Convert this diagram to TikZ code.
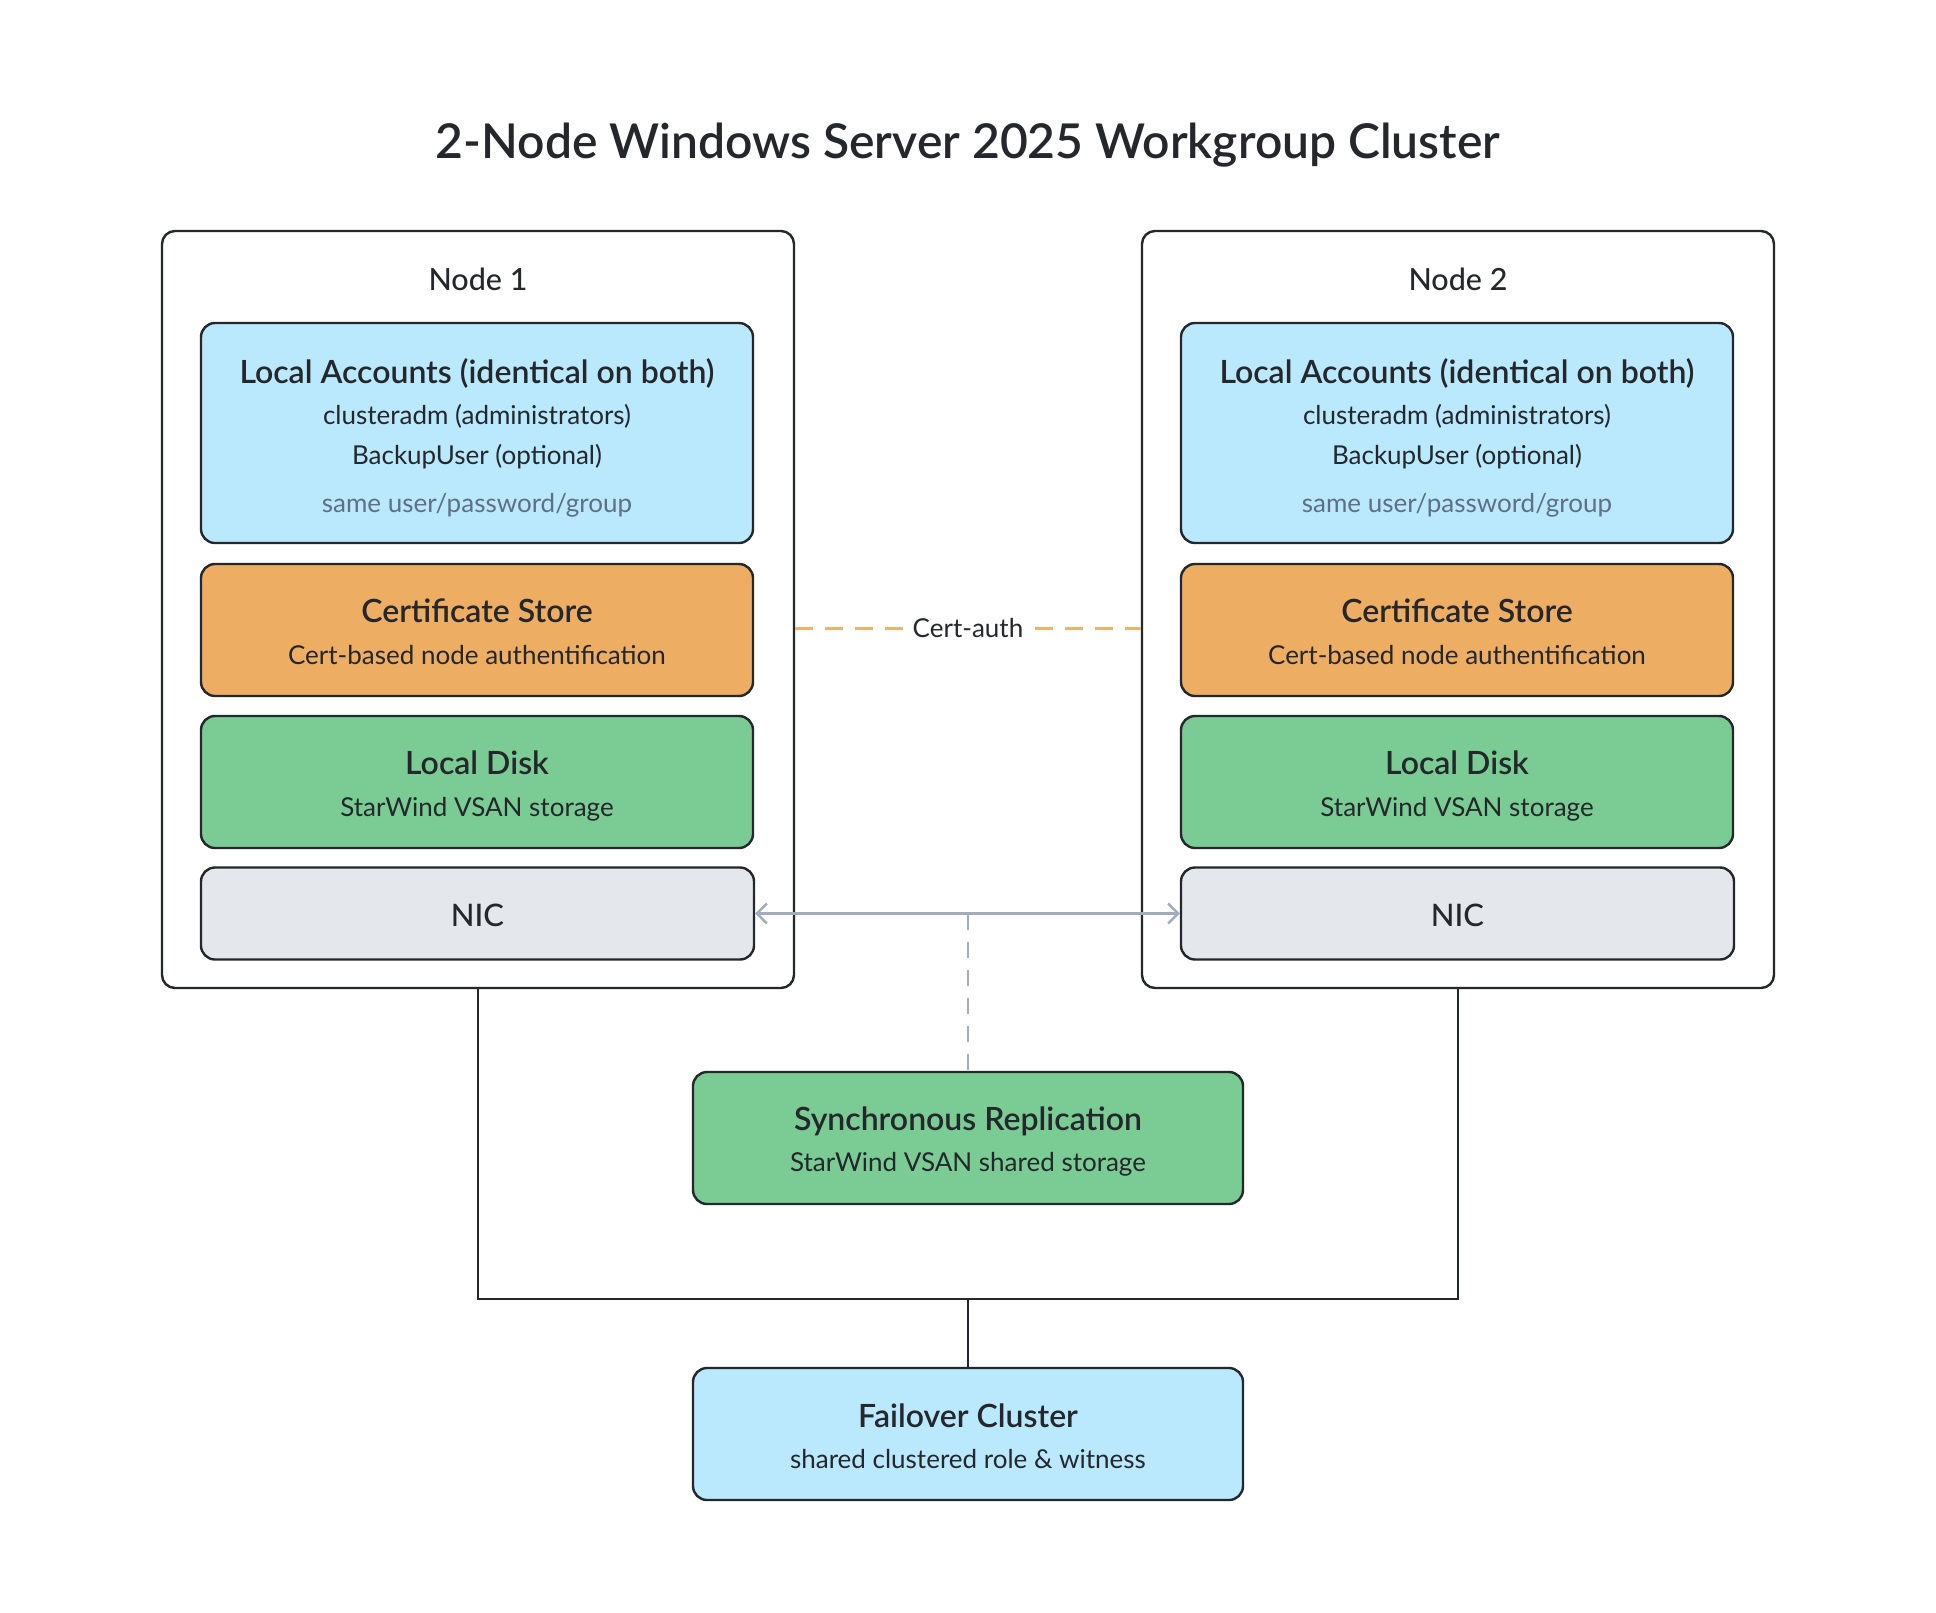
\documentclass[tikz,border=0pt]{standalone}
\usepackage{fontspec}
\setmainfont{Lato}
\IfFontExistsTF{Lato Semibold}{\newfontfamily\semib{Lato Semibold}}{\newfontfamily\semib{Lato}[UprightFont=*-Bold]}
\IfFontExistsTF{Lato Medium}{\newfontfamily\medw{Lato Medium}}{\newfontfamily\medw{Lato}}
\usetikzlibrary{arrows.meta}
\definecolor{ink}{HTML}{24272B}
\definecolor{skyb}{HTML}{BAE8FD}
\definecolor{orng}{HTML}{EDAD62}
\definecolor{grn}{HTML}{7BCB94}
\definecolor{gry}{HTML}{E4E8EC}
\definecolor{slt}{HTML}{A1ACBF}
\definecolor{muted}{HTML}{5F6F84}
\definecolor{dsh}{HTML}{F0B266}
\tikzset{
  outerbox/.style={draw=ink, line width=2.4pt, rounded corners=13pt, fill=white, inner sep=0pt},
  innerbox/.style={draw=ink, line width=2.4pt, rounded corners=14pt, inner sep=0pt},
  ttl/.style={font=\fontsize{32}{36}\semib, text=ink, inner sep=0pt},
  sub/.style={font=\fontsize{26}{30}\selectfont, text=ink, inner sep=0pt},
  mut/.style={font=\fontsize{26}{30}\selectfont, text=muted, inner sep=0pt},
  conn/.style={draw=ink, line width=2.4pt},
}
\begin{document}
\begin{tikzpicture}[x=1pt,y=-1pt]
\useasboundingbox (0,0) rectangle (1936,1612);
\fill[white] (0,0) rectangle (1936,1612);
\node[font=\fontsize{48}{54}\semib, text=ink] (title) at (968,145) {2-Node Windows Server 2025 Workgroup Cluster};

% Node 1
\node[outerbox, minimum width=632pt, minimum height=757pt] (n1) at (478,609.5) {};
\node[font=\fontsize{30.5}{34}\medw, text=ink] (n1t) at (478,279) {Node 1};
\node[innerbox, fill=skyb, minimum width=552pt, minimum height=220pt] (la1) at (477,433) {};
\node[ttl] (la1a) at (477,373) {Local Accounts (identical on both)};
\node[sub] (la1b) at (477,416) {clusteradm (administrators)};
\node[sub] (la1c) at (477,457) {BackupUser (optional)};
\node[mut] (la1d) at (477,505) {same user/password/group};
\node[innerbox, fill=orng, minimum width=552pt, minimum height=132pt] (cs1) at (477,630) {};
\node[ttl] (cs1a) at (477,611) {Certificate Store};
\node[sub] (cs1b) at (477,655) {Cert-based node authentification};
\node[innerbox, fill=grn, minimum width=552pt, minimum height=132pt] (ld1) at (477,782) {};
\node[ttl] (ld1a) at (477,763) {Local Disk};
\node[sub] (ld1b) at (477,809) {StarWind VSAN storage};
\node[innerbox, fill=gry, minimum width=553pt, minimum height=92pt] (nic1) at (477.5,913.5) {};
\node[font=\fontsize{31}{36}\medw, text=ink, inner sep=0pt] (nic1a) at (477.5,915) {NIC};

% Node 2
\node[outerbox, minimum width=632pt, minimum height=757pt] (n2) at (1458,609.5) {};
\node[font=\fontsize{30.5}{34}\medw, text=ink] (n2t) at (1458,279) {Node 2};
\node[innerbox, fill=skyb, minimum width=552pt, minimum height=220pt] (la2) at (1457,433) {};
\node[ttl] (la2a) at (1457,373) {Local Accounts (identical on both)};
\node[sub] (la2b) at (1457,416) {clusteradm (administrators)};
\node[sub] (la2c) at (1457,457) {BackupUser (optional)};
\node[mut] (la2d) at (1457,505) {same user/password/group};
\node[innerbox, fill=orng, minimum width=552pt, minimum height=132pt] (cs2) at (1457,630) {};
\node[ttl] (cs2a) at (1457,611) {Certificate Store};
\node[sub] (cs2b) at (1457,655) {Cert-based node authentification};
\node[innerbox, fill=grn, minimum width=552pt, minimum height=132pt] (ld2) at (1457,782) {};
\node[ttl] (ld2a) at (1457,763) {Local Disk};
\node[sub] (ld2b) at (1457,809) {StarWind VSAN storage};
\node[innerbox, fill=gry, minimum width=553pt, minimum height=92pt] (nic2) at (1457.5,913.5) {};
\node[font=\fontsize{31}{36}\medw, text=ink, inner sep=0pt] (nic2a) at (1457.5,915) {NIC};

% Sync replication & failover
\node[innerbox, fill=grn, minimum width=550pt, minimum height=132pt] (sr) at (968,1138) {};
\node[ttl] (sra) at (968,1121) {Synchronous Replication};
\node[sub] (srb) at (968,1164) {StarWind VSAN shared storage};
\node[innerbox, fill=skyb, minimum width=550pt, minimum height=132pt] (fc) at (968,1434) {};
\node[ttl] (fca) at (968,1416) {Failover Cluster};
\node[sub] (fcb) at (968,1459) {shared clustered role \& witness};

% connectors
\draw[dsh, line width=3pt, dash pattern=on 18pt off 12pt] (n1.east |- 0,628) -- node[fill=white, inner sep=8pt, font=\fontsize{26}{30}\selectfont, text=ink] (ca) {Cert-auth} (n2.west |- 0,628);
\draw[slt, line width=2.4pt, {Straight Barb[length=10pt,width=20pt,line width=2.4pt]}-{Straight Barb[length=10pt,width=20pt,line width=2.4pt]}] (nic1.east) -- (nic2.west);
\coordinate (mid) at (968,914);
\draw[slt, line width=2.4pt, dash pattern=on 16pt off 12pt] (mid) -- (sr.north);
\coordinate (j) at (968,1299);
\draw[conn] (n1.south) -- (n1.south |- j) -- (n2.south |- j) -- (n2.south);
\draw[conn] (j) -- (fc.north);
\end{tikzpicture}
\end{document}
